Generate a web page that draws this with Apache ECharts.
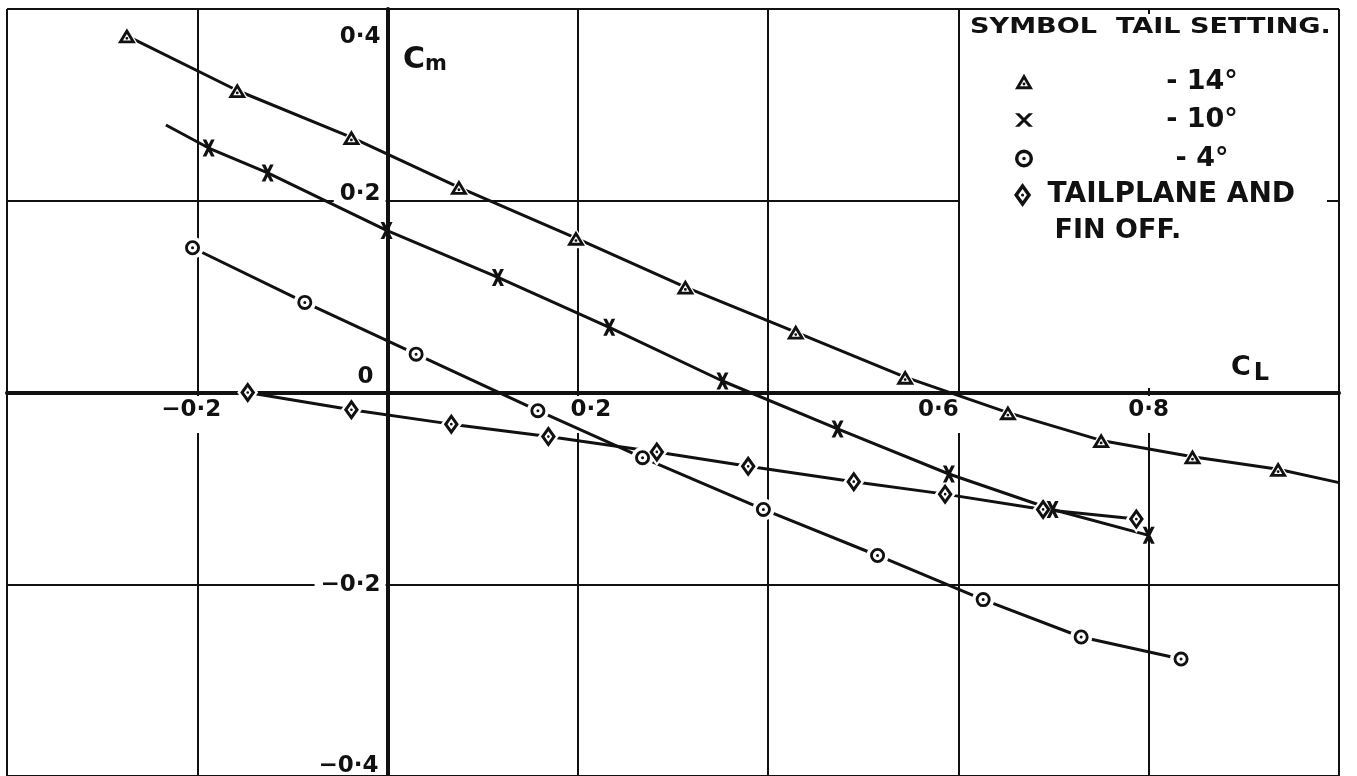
<!DOCTYPE html>
<html>
<head>
<meta charset="utf-8">
<script src="https://cdn.jsdelivr.net/npm/echarts@6.0.0/dist/echarts.min.js"></script>
<style>
  html, body { margin: 0; padding: 0; background: #fff; }
  #chart { width: 1357px; height: 776px; }
</style>
</head>
<body>
<div id="chart"></div>
<script>
// Pitching moment coefficient Cm against lift coefficient CL
// for three tail settings and with tailplane and fin removed.

// Tail setting -14 deg
const cl14 = [-0.274, -0.158, -0.038, 0.075, 0.198, 0.313, 0.429, 0.544, 0.652, 0.750, 0.846, 0.936];
const cm14 = [0.372, 0.315, 0.266, 0.214, 0.161, 0.110, 0.063, 0.016, -0.021, -0.050, -0.067, -0.080];
// faired curve carried on past the last point
const cl14Tail = [1.0];
const cm14Tail = [-0.094];

// Tail setting -10 deg
const cl10 = [-0.188, -0.126, -0.001, 0.116, 0.233, 0.352, 0.473, 0.590, 0.699, 0.800];
const cm10 = [0.255, 0.229, 0.169, 0.120, 0.068, 0.012, -0.038, -0.085, -0.122, -0.149];
// faired curve started ahead of the first point
const cl10Lead = [-0.233];
const cm10Lead = [0.279];

// Tail setting -4 deg
const cl4 = [-0.205, -0.087, 0.030, 0.158, 0.268, 0.395, 0.515, 0.626, 0.729, 0.834];
const cm4 = [0.151, 0.094, 0.040, -0.019, -0.068, -0.122, -0.170, -0.216, -0.255, -0.278];

// Tailplane and fin off
const clOff = [-0.147, -0.038, 0.067, 0.169, 0.283, 0.379, 0.490, 0.586, 0.689, 0.787];
const cmOff = [0.000, -0.018, -0.033, -0.046, -0.062, -0.077, -0.093, -0.106, -0.122, -0.132];

// Key entries
const keyNames = ['- 14°', '- 10°', '- 4°', 'TAILPLANE AND FIN OFF.'];
const keyTitle = 'SYMBOL  TAIL SETTING.';

// Tick labels that are lettered on the axes
const xTickValues = [-0.2, 0.2, 0.6, 0.8];
const xTickText = ['−0·2', '0·2', '0·6', '0·8'];
const yTickValues = [0.4, 0.2, 0, -0.2, -0.4];
const yTickText = ['0·4', '0·2', '0', '−0·2', '−0·4'];

// ---------------------------------------------------------------------------
const INK = '#111';
const FONT = '"DejaVu Sans", sans-serif';
const W = 1357, H = 776;
const GRID = { left: 7, right: 18, top: 9, bottom: 0 };
const X_RANGE = [-0.4, 1.0];
const Y_RANGE = [-0.4, 0.4];

// The axes cross at the origin: shift each axis from the grid edge to zero.
const plotW = W - GRID.left - GRID.right;
const plotH = H - GRID.top - GRID.bottom;
const xAxisShift = -(plotH * (0 - Y_RANGE[0]) / (Y_RANGE[1] - Y_RANGE[0]));
const yAxisShift = -(plotW * (0 - X_RANGE[0]) / (X_RANGE[1] - X_RANGE[0]));

// Open symbols with a centre dot (outer outline, reversed inner outline, dot)
const SYM_TRI = 'path://M50 0 L100 86 L0 86 Z M50 31.8 L27.8 70 L72.2 70 Z M42 57 A8 8 0 1 0 58 57 A8 8 0 1 0 42 57 Z';
const SYM_CROSS = 'path://M0 0 L21 0 L70 100 L49 100 Z M49 0 L70 0 L21 100 L0 100 Z';
const SYM_CROSS_KEY = 'path://M0 0 L24 0 L100 75 L76 75 Z M76 0 L100 0 L24 75 L0 75 Z';
const SYM_CIRC = 'path://M0 50 A50 50 0 1 1 100 50 A50 50 0 1 1 0 50 Z M19 50 A31 31 0 1 0 81 50 A31 31 0 1 0 19 50 Z M40 50 A10 10 0 1 1 60 50 A10 10 0 1 1 40 50 Z';
const SYM_DIA = 'path://M50 0 L100 70 L50 140 L0 70 Z M50 34.4 L24.6 70 L50 105.6 L75.4 70 Z M41 70 A9 9 0 1 1 59 70 A9 9 0 1 1 41 70 Z';

const pairs = (xs, ys) => xs.map((x, i) => [x, ys[i]]);

const pts14 = pairs(cl14, cm14);
const pts10 = pairs(cl10, cm10);
const pts4 = pairs(cl4, cm4);
const ptsOff = pairs(clOff, cmOff);

const curve14 = pts14.concat(pairs(cl14Tail, cm14Tail));
const curve10 = pairs(cl10Lead, cm10Lead).concat(pts10);

// rich styles for the lettered tick labels
const labelFont = { fontFamily: FONT, fontWeight: 'bold', fontSize: 23, lineHeight: 24, color: INK };
const xLabelPad = [[3, 14, 11, 2], [3, 2, 11, 28], [3, 42, 11, 2], [3, 3, 11, 3]];
const yLabelPad = [[56, 5, 0, 0], [2, 5, 16, 6], [0, 12, 31, 0], [3, 5, 1, 6], [0, 7, 20, 0]];
const yLabelBg = [false, true, false, true, false];

const xRich = {};
xLabelPad.forEach((p, i) => { xRich['x' + i] = Object.assign({ padding: p, backgroundColor: '#fff' }, labelFont); });
const yRich = {};
yLabelPad.forEach((p, i) => {
  yRich['y' + i] = Object.assign({ padding: p }, yLabelBg[i] ? { backgroundColor: '#fff' } : {}, labelFont);
});

function tickLabel(values, texts, key) {
  return function (v) {
    const i = values.findIndex(t => Math.abs(t - v) < 1e-6);
    return i < 0 ? '' : '{' + key + i + '|' + texts[i] + '}';
  };
}

function curveSeries(name, data) {
  return {
    name: name, type: 'line', data: data, z: 2, silent: true,
    showSymbol: false, symbol: 'none',
    lineStyle: { color: INK, width: 3 },
    emphasis: { disabled: true }
  };
}
function baseSeries(name, data, symbol, size) {
  return {
    name: name, type: 'scatter', data: data, z: 3, silent: true,
    symbol: symbol, symbolSize: size,
    itemStyle: { color: '#fff', opacity: 1 },
    emphasis: { disabled: true }
  };
}
function markSeries(name, data, symbol, size) {
  return {
    name: name, type: 'scatter', data: data, z: 4,
    symbol: symbol, symbolSize: size,
    itemStyle: { color: INK, borderWidth: 0, opacity: 1 },
    emphasis: { disabled: true }
  };
}

const keyText = { fontFamily: FONT, fontWeight: 'bold', fontSize: 27, color: INK };

const option = {
  animation: false,
  backgroundColor: '#fff',
  textStyle: { fontFamily: FONT },
  grid: Object.assign({ containLabel: false, outerBoundsMode: 'none' }, GRID),
  xAxis: {
    type: 'value', min: X_RANGE[0], max: X_RANGE[1], interval: 0.2, z: 0,
    position: 'bottom', offset: xAxisShift,
    axisLine: { onZero: false, lineStyle: { color: INK, width: 4 } },
    axisTick: { show: false },
    splitLine: { show: true, lineStyle: { color: INK, width: 2 } },
    axisLabel: {
      margin: 10, showMinLabel: true, showMaxLabel: true,
      formatter: tickLabel(xTickValues, xTickText, 'x'),
      rich: xRich
    }
  },
  yAxis: {
    type: 'value', min: Y_RANGE[0], max: Y_RANGE[1], interval: 0.2, z: 0,
    position: 'left', offset: yAxisShift,
    axisLine: { onZero: false, lineStyle: { color: INK, width: 4 } },
    axisTick: { show: false },
    splitLine: { show: true, lineStyle: { color: INK, width: 2 } },
    axisLabel: {
      margin: 2, showMinLabel: true, showMaxLabel: true,
      formatter: tickLabel(yTickValues, yTickText, 'y'),
      rich: yRich
    }
  },
  legend: [
    {
      orient: 'vertical', left: 1015, top: 68, padding: 0,
      itemWidth: 18, itemHeight: 24, itemGap: 11.5, z: 6,
      selectedMode: false,
      data: [
        { name: keyNames[0], icon: SYM_TRI },
        { name: keyNames[1], icon: SYM_CROSS_KEY },
        { name: keyNames[2], icon: SYM_CIRC }
      ],
      formatter: name => '{v|' + name + '}',
      textStyle: Object.assign({
        padding: [0, 0, 0, 114],
        rich: { v: Object.assign({ width: 100, align: 'center', lineHeight: 24 }, keyText) }
      }, keyText)
    },
    {
      orient: 'vertical', left: 1014, top: 181, padding: 0,
      itemWidth: 18, itemHeight: 24, z: 6,
      selectedMode: false,
      data: [{ name: keyNames[3], icon: SYM_DIA }],
      formatter: name => {
        const cut = name.indexOf(' FIN');
        return '{t|' + name.slice(0, cut) + '}\n{f|' + name.slice(cut + 1) + '}';
      },
      textStyle: Object.assign({
        padding: [36, 0, 0, 11],
        rich: {
          t: Object.assign({ lineHeight: 36 }, keyText, { fontSize: 28 }),
          f: Object.assign({ lineHeight: 36, padding: [0, 0, 0, 7] }, keyText)
        }
      }, keyText)
    }
  ],
  graphic: {
    elements: [
      {
        type: 'rect', z: 1, silent: true,
        shape: { x: 960, y: 14, width: 367, height: 374 },
        style: { fill: '#fff' }
      },
      {
        type: 'text', z: 5, silent: true, x: 970, y: 28, scaleX: 1.29,
        style: {
          text: keyTitle, fill: INK, align: 'left', verticalAlign: 'middle',
          font: 'bold 21px "DejaVu Sans", sans-serif'
        }
      },
      {
        type: 'text', z: 5, silent: true, x: 1231, y: 368,
        style: {
          text: '{c|C}{l|L}', align: 'left', verticalAlign: 'middle', fill: INK,
          rich: {
            c: { fontFamily: FONT, fontWeight: 'bold', fontSize: 27, lineHeight: 30, fill: INK },
            l: { fontFamily: FONT, fontWeight: 'bold', fontSize: 24, lineHeight: 30, fill: INK, padding: [12, 0, 0, 3] }
          }
        }
      },
      {
        type: 'text', z: 5, silent: true, x: 403, y: 60,
        style: {
          text: '{c|C}{m|m}', align: 'left', verticalAlign: 'middle', fill: INK,
          rich: {
            c: { fontFamily: FONT, fontWeight: 'bold', fontSize: 30, lineHeight: 30, fill: INK },
            m: { fontFamily: FONT, fontWeight: 'bold', fontSize: 21, lineHeight: 30, fill: INK, padding: [10, 0, 0, 0] }
          }
        }
      }
    ]
  },
  series: [
    curveSeries('curve -14', curve14),
    curveSeries('curve -10', curve10),
    curveSeries('curve -4', pts4),
    curveSeries('curve off', ptsOff),

    baseSeries('base -14', pts14, 'triangle', [24, 20]),
    baseSeries('base -4', pts4, 'circle', 22),
    baseSeries('base off', ptsOff, 'diamond', [21, 28]),

    markSeries(keyNames[0], pts14, SYM_TRI, [18, 15]),
    markSeries(keyNames[1], pts10, SYM_CROSS, [12, 17]),
    markSeries(keyNames[2], pts4, SYM_CIRC, 15),
    markSeries(keyNames[3], ptsOff, SYM_DIA, [15, 21])
  ]
};

const chart = echarts.init(document.getElementById('chart'), null, { renderer: 'canvas' });
chart.setOption(option);
</script>
</body>
</html>
